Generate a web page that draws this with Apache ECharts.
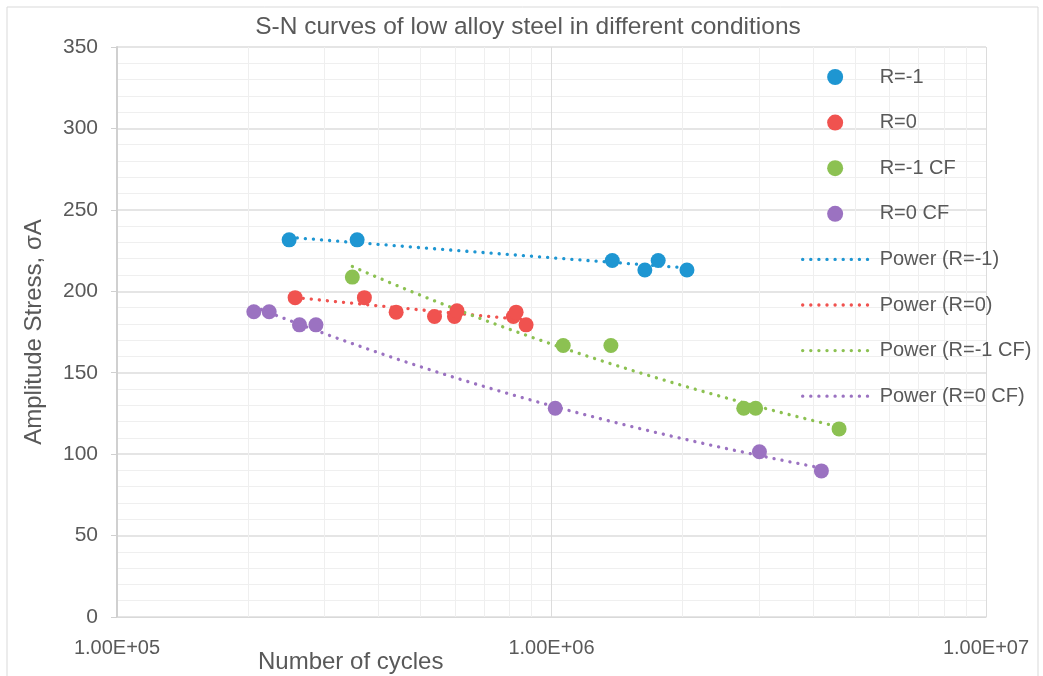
<!DOCTYPE html>
<html>
<head>
<meta charset="utf-8">
<script src="https://cdn.jsdelivr.net/npm/echarts@6/dist/echarts.min.js"></script>
<style>
  html, body { margin: 0; padding: 0; background: #fff; }
  #chart { width: 1043px; height: 676px; }
</style>
</head>
<body>
<div id="chart"></div>
<script>
// cycles / amplitude stress
const cyclesR1 = [2.49e5, 3.57e5, 1.38e6, 1.64e6, 1.76e6, 2.05e6];
const stressR1 = [231.6, 231.6, 218.9, 213.1, 218.9, 213.1];

const cyclesR0 = [2.57e5, 3.71e5, 4.39e5, 5.38e5, 5.98e5, 6.06e5, 8.17e5, 8.29e5, 8.74e5];
const stressR0 = [196.1, 196.1, 187.2, 184.5, 184.5, 188.0, 184.5, 187.2, 179.4];

const cyclesR1CF = [3.48e5, 1.064e6, 1.37e6, 2.77e6, 2.95e6, 4.59e6];
const stressR1CF = [208.7, 166.7, 166.7, 128.2, 128.2, 115.5];

const cyclesR0CF = [2.065e5, 2.24e5, 2.63e5, 2.87e5, 1.02e6, 3.01e6, 4.18e6];
const stressR0CF = [187.4, 187.4, 179.4, 179.4, 128.2, 101.5, 89.7];

const seriesNames = ['R=-1', 'R=0', 'R=-1 CF', 'R=0 CF'];
const colors = ['#1e96d2', '#f0524f', '#8cc152', '#9b72c1'];

// vertical minor grid positions (2..9 per decade)
const minorX = [2e5, 3e5, 4e5, 5e5, 6e5, 7e5, 8e5, 9e5, 2e6, 3e6, 4e6, 5e6, 6e6, 7e6, 8e6, 9e6];

const groups = [
  [cyclesR1, stressR1],
  [cyclesR0, stressR0],
  [cyclesR1CF, stressR1CF],
  [cyclesR0CF, stressR0CF],
];

// power trendline y = a * N^b, least squares in log-log space
function powerFit(xs, ys) {
  const n = xs.length;
  const lx = xs.map(Math.log), ly = ys.map(Math.log);
  const mx = lx.reduce((s, v) => s + v, 0) / n;
  const my = ly.reduce((s, v) => s + v, 0) / n;
  let sxy = 0, sxx = 0;
  for (let i = 0; i < n; i++) {
    sxy += (lx[i] - mx) * (ly[i] - my);
    sxx += (lx[i] - mx) * (lx[i] - mx);
  }
  const b = sxy / sxx;
  const a = Math.exp(my - b * mx);
  const lo = Math.log10(Math.min(...xs)), hi = Math.log10(Math.max(...xs));
  const pts = [];
  for (let k = 0; k <= 40; k++) {
    const x = Math.pow(10, lo + (hi - lo) * k / 40);
    pts.push([x, a * Math.pow(x, b)]);
  }
  return pts;
}

const font = '"Liberation Sans", Arial, sans-serif';
const textColor = '#595959';

const scatterSeries = groups.map((g, i) => ({
  name: seriesNames[i],
  type: 'scatter',
  z: 4,
  symbol: 'circle',
  symbolSize: 15,
  itemStyle: { color: colors[i], opacity: 1 },
  data: g[0].map((x, j) => [x, g[1][j]]),
}));

const trendSeries = groups.map((g, i) => ({
  name: 'Power (' + seriesNames[i] + ')',
  type: 'line',
  z: 2,
  symbol: 'none',
  silent: true,
  lineStyle: { color: colors[i], width: 3.3, type: [0.1, 8], cap: 'round' },
  itemStyle: { color: colors[i] },
  data: powerFit(g[0], g[1]),
}));

// minor vertical gridlines as a markLine on a hidden series
const gridSeries = {
  type: 'line',
  data: [],
  z: 0,
  silent: true,
  markLine: {
    z: 0,
    symbol: 'none',
    silent: true,
    label: { show: false },
    lineStyle: { color: '#efefef', width: 1, type: 'solid' },
    data: minorX.map((v) => ({ xAxis: v })),
  },
};

const legendData = seriesNames.map((s) => ({ name: s }))
  .concat(seriesNames.map((s) => ({
    name: 'Power (' + s + ')',
    itemStyle: { color: 'rgba(0,0,0,0)', borderWidth: 0, opacity: 0 },
  })));

const chart = echarts.init(document.getElementById('chart'), null, { renderer: 'canvas' });

chart.setOption({
  backgroundColor: '#ffffff',
  animation: false,
  title: {
    text: 'S-N curves of low alloy steel in different conditions',
    left: 523,
    top: 10,
    textAlign: 'center',
    textStyle: { fontFamily: font, fontSize: 24.5, fontWeight: 'normal', color: textColor },
  },
  graphic: [
    {
      type: 'rect',
      z: -10,
      shape: { x: 7, y: 7, width: 1031, height: 680 },
      style: { fill: 'none', stroke: '#d9d9d9', lineWidth: 1 },
      silent: true,
    },
    {
      type: 'text',
      left: 258,
      top: 650,
      style: { text: 'Number of cycles', fontFamily: font, fontSize: 24, fill: textColor },
    },
  ],
  legend: {
    orient: 'vertical',
    left: 796,
    top: 62,
    itemWidth: 65,
    itemHeight: 16,
    itemGap: 25.6,
    lineStyle: { width: 3.3, cap: 'round', type: [0.1, 8] },
    textStyle: { fontFamily: font, fontSize: 20, color: textColor, padding: [0, 0, 0, 7] },
    data: legendData,
  },
  grid: { left: 117, right: 57, top: 47, bottom: 59, containLabel: false },
  xAxis: {
    type: 'log',
    logBase: 10,
    min: 1e5,
    max: 1e7,
    axisLine: { show: true, lineStyle: { color: '#d9d9d9', width: 1 } },
    axisTick: { show: false },
    axisLabel: {
      margin: 21,
      fontFamily: font,
      fontSize: 20,
      color: textColor,
      formatter: (v) => v.toExponential(2).toUpperCase().replace('E+', 'E+0'),
    },
    splitLine: { show: true, lineStyle: { color: '#dcdcdc', width: 1 } },
  },
  yAxis: {
    type: 'value',
    min: 0,
    max: 350,
    interval: 50,
    name: 'Amplitude Stress, σA',
    nameLocation: 'middle',
    nameGap: 71,
    nameTextStyle: { fontFamily: font, fontSize: 24, color: textColor },
    axisLine: { show: true, lineStyle: { color: '#d0d0d0', width: 2 } },
    axisTick: { show: true, length: 6, lineStyle: { color: '#d0d0d0' } },
    axisLabel: { margin: 19, fontFamily: font, fontSize: 21, color: textColor },
    splitLine: { show: true, lineStyle: { color: '#dcdcdc', width: 1.5 } },
    minorTick: { show: false, splitNumber: 5 },
    minorSplitLine: { show: true, lineStyle: { color: '#efefef', width: 1 } },
  },
  series: [gridSeries].concat(scatterSeries, trendSeries),
});
</script>
</body>
</html>
